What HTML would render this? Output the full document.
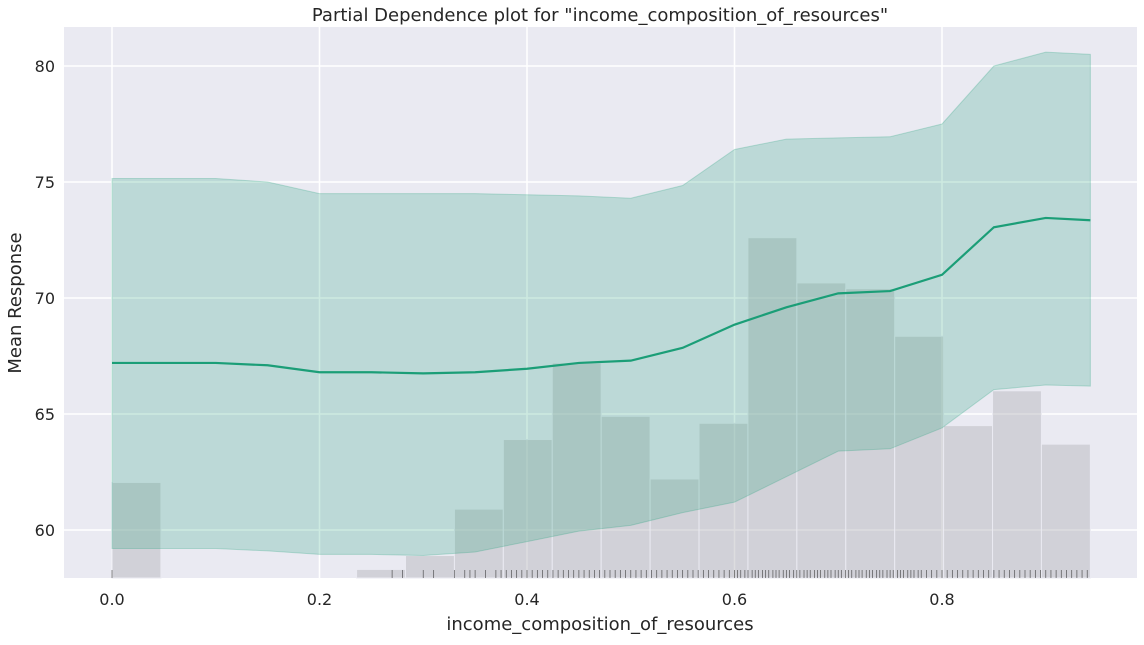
<!DOCTYPE html>
<html><head><meta charset="utf-8"><style>
body{margin:0;background:#fff;font-family:"Liberation Sans","DejaVu Sans",sans-serif}
svg text{font-family:"DejaVu Sans","Liberation Sans",sans-serif;fill:#262626}
</style></head><body>
<svg id="c" width="1144" height="640">
<rect x="64" y="27" width="1073" height="551" fill="#eaeaf2"/>
<g id="grid"></g><g id="hist"></g><g id="band"></g><g id="rug"></g><g id="ticks"></g>
<text x="600" y="21" text-anchor="middle" font-size="18">Partial Dependence plot for "income_composition_of_resources"</text>
<text x="600" y="630" text-anchor="middle" font-size="18">income_composition_of_resources</text>
<text transform="translate(21,303) rotate(-90)" text-anchor="middle" font-size="18">Mean Response</text>
</svg>
<script>
const xs=[0,0.05,0.1,0.15,0.2,0.25,0.3,0.35,0.4,0.45,0.5,0.55,0.6,0.65,0.7,0.75,0.8,0.85,0.9,0.943];
const mean=[67.2,67.2,67.2,67.1,66.8,66.8,66.75,66.8,66.95,67.2,67.3,67.85,68.85,69.6,70.2,70.3,71.0,73.05,73.45,73.35];
const upper=[75.15,75.15,75.15,75.0,74.5,74.5,74.5,74.5,74.45,74.4,74.3,74.85,76.4,76.85,76.9,76.95,77.5,80.0,80.6,80.5];
const lower=[59.2,59.2,59.2,59.1,58.95,58.95,58.9,59.05,59.5,59.95,60.2,60.75,61.2,62.3,63.4,63.5,64.4,66.05,66.25,66.2];
const histTops=[62.05,0,0,0,0,58.3,58.9,60.9,63.9,67.2,64.9,62.2,64.6,72.6,70.65,70.4,68.35,64.5,66.0,63.7];
const binWidth=0.04715;
const rugVals=[0,0.27,0.28,0.3,0.31,0.33,0.34,0.345,0.35,0.36,0.37,0.375,0.38,0.385,0.39,0.395,0.4,0.405,0.41,0.415,0.42,0.425,0.43,0.435,0.44,0.445,0.45,0.455,0.46,0.465,0.47,0.475,0.48,0.485,0.49,0.495,0.5,0.505,0.51,0.515,0.52,0.525,0.53,0.535,0.54,0.545,0.55,0.555,0.56,0.565,0.57,0.575,0.58,0.585,0.59,0.595,0.6,0.603,0.606,0.61,0.613,0.617,0.62,0.623,0.627,0.63,0.633,0.637,0.64,0.643,0.647,0.65,0.653,0.657,0.66,0.663,0.667,0.67,0.673,0.677,0.68,0.683,0.687,0.69,0.693,0.697,0.7,0.703,0.707,0.71,0.713,0.717,0.72,0.723,0.727,0.73,0.733,0.737,0.74,0.743,0.747,0.75,0.753,0.757,0.76,0.763,0.767,0.77,0.773,0.777,0.78,0.785,0.79,0.795,0.8,0.805,0.81,0.815,0.82,0.825,0.83,0.835,0.84,0.845,0.85,0.855,0.86,0.865,0.87,0.875,0.88,0.885,0.89,0.895,0.9,0.905,0.91,0.915,0.92,0.925,0.93,0.935,0.94];
const xTicks=[0,0.2,0.4,0.6,0.8];
const yTicks=[60,65,70,75,80];
const X=v=>112+v*1037.5, Y=v=>530-(v-60)*23.2, YMIN=57.93;
const NS='http://www.w3.org/2000/svg';
function mk(p,t,a){const e=document.createElementNS(NS,t);for(const k in a)e.setAttribute(k,a[k]);document.getElementById(p).appendChild(e);return e;}
xTicks.forEach(t=>{
 const l=mk('grid','line',{x1:X(t),x2:X(t),y1:27,y2:578,stroke:'#fff','stroke-width':1.5});
 
 const tx=mk('ticks','text',{x:X(t),y:605,'text-anchor':'middle','font-size':16});tx.textContent=t.toFixed(1);
 
});
yTicks.forEach(t=>{
 const l=mk('grid','line',{x1:64,x2:1137,y1:Y(t),y2:Y(t),stroke:'#fff','stroke-width':1.5});
 
 const tx=mk('ticks','text',{x:55,y:Y(t)+6,'text-anchor':'end','font-size':16});tx.textContent=t;
 
});
let bp='M'+xs.map((x,i)=>X(x)+','+Y(upper[i])).join('L')+'L'+xs.map((x,i)=>X(x)+','+Y(lower[i])).reverse().join('L')+'Z';
const b=mk('band','path',{d:bp,fill:'#1b9e77','fill-opacity':0.22,stroke:'#1b9e77','stroke-opacity':0.25});

histTops.forEach((h,i)=>{ if(h<=YMIN) return;
 const x0=X(i*binWidth),x1=X((i+1)*binWidth);
 const r=mk('hist','rect',{x:x0,y:Y(h),width:x1-x0,height:578-Y(h),fill:'#b4b4b8','fill-opacity':0.45,stroke:'#eaeaf2','stroke-width':1});
 
});
const ln=mk('band','path',{d:'M'+xs.map((x,i)=>X(x)+','+Y(mean[i])).join('L'),fill:'none',stroke:'#1b9e77','stroke-width':2.2});

rugVals.forEach(v=>{
 const r=mk('rug','line',{x1:X(v),x2:X(v),y1:570,y2:578,stroke:'#333','stroke-width':0.8,'stroke-opacity':0.7});
 
});
</script>
</body></html>
